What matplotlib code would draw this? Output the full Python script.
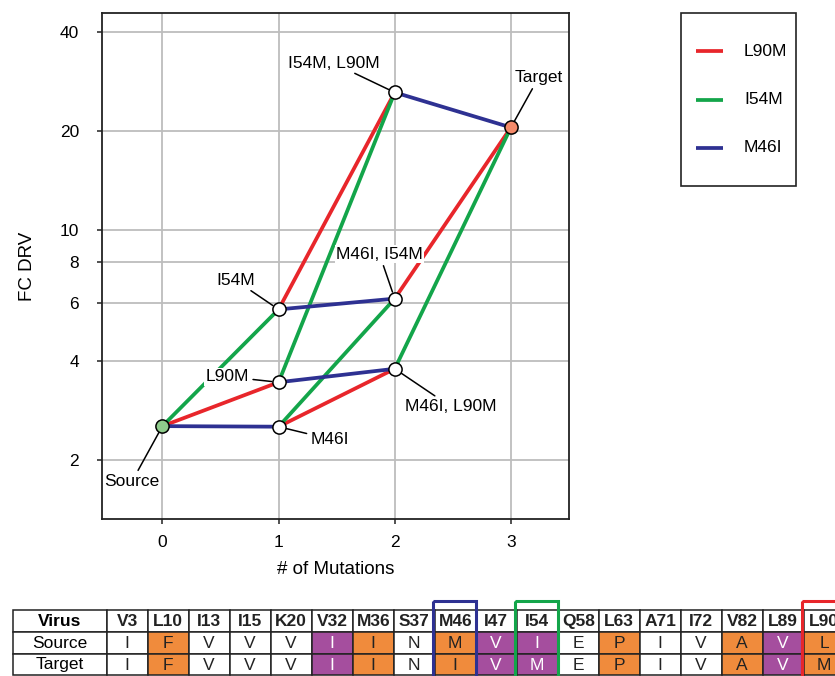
import matplotlib.pyplot as plt
from matplotlib.patches import Rectangle
from matplotlib.ticker import FixedLocator, NullLocator

plt.rcParams['font.family'] = ['Liberation Sans', 'DejaVu Sans']

# genotypes along the paths
nodes = ['Source', 'M46I', 'L90M', 'I54M', 'M46I, L90M', 'M46I, I54M', 'I54M, L90M', 'Target']
n_mut = [0, 1, 1, 1, 2, 2, 2, 3]
fc_drv = [2.53, 2.52, 3.44, 5.73, 3.78, 6.18, 26.2, 20.5]

# steps gained by each mutation (from node, to node)
steps = {
    'L90M': [('Source', 'L90M'), ('M46I', 'M46I, L90M'), ('I54M', 'I54M, L90M'), ('M46I, I54M', 'Target')],
    'I54M': [('Source', 'I54M'), ('M46I', 'M46I, I54M'), ('L90M', 'I54M, L90M'), ('M46I, L90M', 'Target')],
    'M46I': [('Source', 'M46I'), ('L90M', 'M46I, L90M'), ('I54M', 'M46I, I54M'), ('I54M, L90M', 'Target')],
}
mutations = ['L90M', 'I54M', 'M46I']
colors = {'L90M': '#e8262b', 'I54M': '#13a54a', 'M46I': '#2e3192'}

# label offsets (points)
label_offsets = {
    'Source': (-22, -40), 'M46I': (37, -9), 'L90M': (-37, 4), 'I54M': (-31, 21),
    'M46I, L90M': (40, -27), 'M46I, I54M': (-11, 32), 'I54M, L90M': (-44, 21), 'Target': (20, 36),
}

# sequence table
positions = ['V3', 'L10', 'I13', 'I15', 'K20', 'V32', 'M36', 'S37', 'M46', 'I47', 'I54',
             'Q58', 'L63', 'A71', 'I72', 'V82', 'L89', 'L90']
source_aa = ['I', 'F', 'V', 'V', 'V', 'I', 'I', 'N', 'M', 'V', 'I', 'E', 'P', 'I', 'V', 'A', 'V', 'L']
target_aa = ['I', 'F', 'V', 'V', 'V', 'I', 'I', 'N', 'I', 'V', 'M', 'E', 'P', 'I', 'V', 'A', 'V', 'M']
aa_class = ['', 'o', '', '', '', 'p', 'o', '', 'o', 'p', 'p', '', 'o', '', '', 'o', 'p', 'o']
class_color = {'o': '#f08b3c', 'p': '#a54e9e', '': 'white'}
boxed = {'M46': '#2e3192', 'I54': '#13a54a', 'L90': '#e8262b'}

fig = plt.figure(figsize=(8.35, 6.76), dpi=100)
W, H = 835, 676
ax = fig.add_axes([102 / W, 1 - 519 / H, 467 / W, 506 / H])

idx = {n: i for i, n in enumerate(nodes)}
for mut in mutations:
    for a, b in steps[mut]:
        ax.plot([n_mut[idx[a]], n_mut[idx[b]]], [fc_drv[idx[a]], fc_drv[idx[b]]],
                color=colors[mut], lw=2.7, solid_capstyle='butt', zorder=3)

for i, n in enumerate(nodes):
    fc = 'white'
    if n == 'Source':
        fc = '#8fcc8c'
    elif n == 'Target':
        fc = '#f48a6a'
    ax.plot(n_mut[i], fc_drv[i], 'o', ms=9.5, mfc=fc, mec='k', mew=1.1, zorder=5)
    ax.annotate(n, (n_mut[i], fc_drv[i]), xytext=label_offsets[n], textcoords='offset points',
                ha='center', va='center', fontsize=12.5, zorder=4,
                bbox=dict(fc='white', ec='none', pad=1.0),
                arrowprops=dict(arrowstyle='-', color='k', lw=1.1, shrinkA=2, shrinkB=5))

ax.set_yscale('log')
ax.set_xlim(-0.52, 3.5)
ax.set_ylim(1.32, 45.7)
ax.yaxis.set_major_locator(FixedLocator([2, 4, 6, 8, 10, 20, 40]))
ax.yaxis.set_minor_locator(NullLocator())
ax.set_yticklabels(['2', '4', '6', '8', '10', '20', '40'])
ax.set_xticks([0, 1, 2, 3])
ax.grid(True, color='#bdbdbd', lw=1.3)
ax.set_axisbelow(True)
ax.tick_params(direction='out', length=3.6, width=1.1, labelsize=12.5, color='#222222')
ax.tick_params(axis='y', pad=13)
ax.tick_params(axis='x', pad=8)
for s in ax.spines.values():
    s.set_linewidth(1.3)
    s.set_color('#222222')
ax.set_xlabel('# of Mutations', fontsize=13.5, labelpad=8)
ax.set_ylabel('FC DRV', fontsize=13.5, labelpad=17)

# overlay in pixel coordinates for legend and table
ov = fig.add_axes([0, 0, 1, 1])
ov.set_xlim(0, W)
ov.set_ylim(H, 0)
ov.axis('off')

ov.add_patch(Rectangle((681, 13), 115, 173, fc='white', ec='#222222', lw=1.2))
for k, mut in enumerate(mutations):
    y = 51 + k * 48.5
    ov.plot([696, 723], [y, y], color=colors[mut], lw=2.7, solid_capstyle='butt')
    ov.text(744, y, mut, ha='left', va='center', fontsize=12.5)

x0, w0, wc = 12.7, 94, 41.0
y0, rh = 610, 21.8
rows = [('Virus', positions), ('Source', source_aa), ('Target', target_aa)]
for r, (name, vals) in enumerate(rows):
    y = y0 + r * rh
    ov.add_patch(Rectangle((x0, y), w0, rh, fc='white', ec='#222222', lw=1.1, clip_on=False))
    ov.text(x0 + w0 / 2, y + rh / 2 + 0.5, name, ha='center', va='center', fontsize=12.5,
            fontweight='bold' if r == 0 else 'normal')
    for c, v in enumerate(vals):
        x = x0 + w0 + c * wc
        fc = 'white' if r == 0 else class_color[aa_class[c]]
        ov.add_patch(Rectangle((x, y), wc, rh, fc=fc, ec='#222222', lw=1.1, clip_on=False))
        ov.text(x + wc / 2, y + rh / 2 + 0.5, v, ha='center', va='center', fontsize=12.5,
                fontweight='bold' if r == 0 else 'normal',
                color='white' if (r > 0 and aa_class[c] == 'p') else '#222222', clip_on=False)

for c, p in enumerate(positions):
    if p in boxed:
        x = x0 + w0 + c * wc
        ov.add_patch(Rectangle((x - 1.5, 601), wc + 2, 90, fc='none', ec=boxed[p], lw=2.2,
                               clip_on=False))

fig.savefig('out.png', dpi=100)
